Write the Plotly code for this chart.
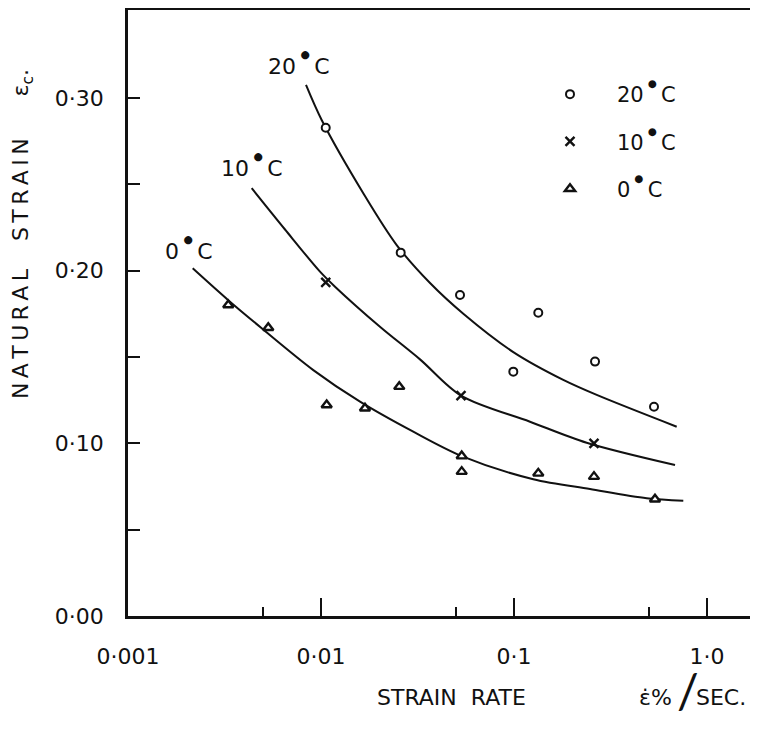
import plotly.graph_objects as go

# ---- data ----
# measured points
rate_20 = [0.01058, 0.02588, 0.05251, 0.09918, 0.1336, 0.2629, 0.5314]
strain_20 = [0.2827, 0.2104, 0.1859, 0.1415, 0.1756, 0.1473, 0.1212]

rate_10 = [0.01058, 0.05313, 0.2597]
strain_10 = [0.1932, 0.1276, 0.1000]

rate_0 = [0.003308, 0.005331, 0.01070, 0.0169, 0.02544, 0.05358, 0.05358, 0.1336, 0.2597, 0.5377]
strain_0 = [0.1801, 0.1669, 0.1222, 0.1203, 0.1328, 0.0926, 0.0836, 0.0826, 0.0807, 0.0676]

# hand-drawn fitted curves
curve_rate_20 = [0.008362, 0.01008, 0.01656, 0.02467, 0.03672, 0.05463, 0.09918, 0.1800, 0.2683, 0.6966]
curve_strain_20 = [0.3075, 0.2872, 0.2448, 0.2148, 0.1928, 0.1750, 0.1528, 0.1367, 0.1280, 0.1096]

curve_rate_10 = [0.004374, 0.006511, 0.009881, 0.01182, 0.02021, 0.03258, 0.05313, 0.1210, 0.2380, 0.6828]
curve_strain_10 = [0.2477, 0.2238, 0.1994, 0.1907, 0.1675, 0.1486, 0.1276, 0.1125, 0.1003, 0.0874]

curve_rate_0 = [0.002164, 0.003296, 0.004929, 0.009123, 0.01593, 0.03007, 0.05358, 0.1259, 0.2476, 0.4871, 0.7537]
curve_strain_0 = [0.2013, 0.1830, 0.1666, 0.1424, 0.1241, 0.1067, 0.0926, 0.0792, 0.0735, 0.0682, 0.0668]

x_tickvals = [0.001, 0.01, 0.1, 1.0]
x_ticktext = ["0·001", "0·01", "0·1", "1·0"]
x_minor = [0.005, 0.05, 0.5]
y_tickvals = [0.0, 0.1, 0.2, 0.3]
y_ticktext = ["0·00", "0·10", "0·20", "0·30"]
y_minor = [0.05, 0.15, 0.25]

deg = "\u2009<sup><sup>●</sup></sup>\u2009"
series_names = ["20" + deg + "C", "10" + deg + "C", "0" + deg + "C"]

FONT = "DejaVu Sans"
INK = "#111111"

# page has an 8px body margin; plot area spans page x 128..750, y 10..616
W, H = 742, 715
ML, MT, MB = 120, 2, 107
PW = W - ML
PH = H - MT - MB
DEC = 193.0  # pixels per decade


def px(page_x):
    return (page_x - 128) / PW


def py(page_y):
    return (616 - page_y) / PH


fig = go.Figure()

for cx, cy in [(curve_rate_20, curve_strain_20), (curve_rate_10, curve_strain_10), (curve_rate_0, curve_strain_0)]:
    fig.add_trace(go.Scatter(x=cx, y=cy, mode="lines",
                             line=dict(color=INK, width=2, shape="spline", smoothing=0.9),
                             showlegend=False, hoverinfo="skip"))

fig.add_trace(go.Scatter(x=rate_20, y=strain_20, mode="markers", name=series_names[0],
                         legendgroup="a",
                         marker=dict(symbol="circle", size=8, color="white",
                                     line=dict(color=INK, width=2))))
fig.add_trace(go.Scatter(x=rate_10, y=strain_10, mode="markers", name=series_names[1],
                         legendgroup="b",
                         marker=dict(symbol="x-thin", size=9, color=INK,
                                     line=dict(color=INK, width=2.4))))
fig.add_trace(go.Scatter(x=rate_0, y=strain_0, mode="markers", name=series_names[2],
                         legendgroup="c",
                         marker=dict(symbol="triangle-up", size=9, color="white",
                                     line=dict(color=INK, width=2.4))))

lab_font = dict(family=FONT, size=22, color=INK)
# curve labels
for txt, cxp, cyp in [(series_names[0], 299, 64), (series_names[1], 252, 165), (series_names[2], 189, 248)]:
    fig.add_annotation(x=px(cxp), y=py(cyp), xref="paper", yref="paper", text=txt,
                       showarrow=False, font=lab_font, xanchor="center", yanchor="middle")

sp = "\u2009"
ytitle = sp.join("NATURAL") + "    " + sp.join("STRAIN") + "      ε<sub>c</sub>."
fig.add_annotation(x=px(22), y=py(234), xref="paper", yref="paper", text=ytitle,
                   textangle=-90, showarrow=False, xanchor="center", yanchor="middle",
                   font=dict(family=FONT, size=22, color=INK))

tfont = dict(family=FONT, size=22, color=INK)
fig.add_annotation(x=px(451), y=py(697), xref="paper", yref="paper", text="STRAIN  RATE",
                   showarrow=False, xanchor="center", yanchor="middle", font=tfont)
fig.add_annotation(x=px(655), y=py(697), xref="paper", yref="paper", text="ε\u0307%",
                   showarrow=False, xanchor="center", yanchor="middle", font=tfont)
fig.add_annotation(x=px(688), y=py(690), xref="paper", yref="paper", text="/",
                   showarrow=False, xanchor="center", yanchor="middle",
                   font=dict(family="Lato", size=48, color=INK))
fig.add_annotation(x=px(721), y=py(697), xref="paper", yref="paper", text="SEC.",
                   showarrow=False, xanchor="center", yanchor="middle", font=tfont)

fig.update_xaxes(type="log", range=[-3, -3 + PW / DEC],
                 showline=True, linecolor=INK, linewidth=2.5, mirror=True,
                 showgrid=False, zeroline=False,
                 tickmode="array", tickvals=x_tickvals, ticktext=x_ticktext,
                 ticks="inside", ticklen=18, tickwidth=2, tickcolor=INK,
                 ticklabelstandoff=19,
                 tickfont=dict(family=FONT, size=22, color=INK),
                 minor=dict(tickvals=x_minor, ticks="inside", ticklen=9,
                            tickwidth=2, tickcolor=INK, showgrid=False))
fig.update_yaxes(range=[0, PH / 1727.0],
                 showline=True, linecolor=INK, linewidth=2.5, mirror=False,
                 showgrid=False, zeroline=False,
                 tickmode="array", tickvals=y_tickvals, ticktext=y_ticktext,
                 ticks="inside", ticklen=12, tickwidth=2, tickcolor=INK,
                 ticklabelstandoff=17,
                 tickfont=dict(family=FONT, size=22, color=INK),
                 minor=dict(tickvals=y_minor, ticks="inside", ticklen=12,
                            tickwidth=2, tickcolor=INK, showgrid=False))

fig.update_layout(width=W, height=H,
                  margin=dict(l=ML, r=0, t=MT, b=MB, autoexpand=False),
                  paper_bgcolor="white", plot_bgcolor="white",
                  showlegend=True,
                  legend=dict(x=px(523), y=py(74), xanchor="left", yanchor="top",
                              bgcolor="rgba(0,0,0,0)", tracegroupgap=17,
                              font=dict(family=FONT, size=21, color=INK),
                              itemwidth=84))

fig.write_html("out.html")
